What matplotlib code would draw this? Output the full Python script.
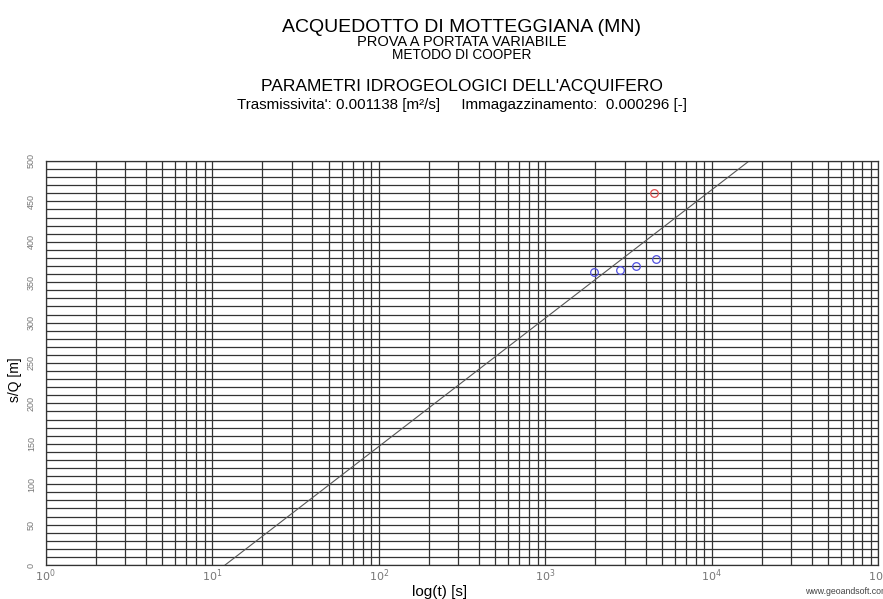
"""Cooper-Jacob straight-line plot for the Motteggiana variable-rate test."""

import matplotlib

matplotlib.use("Agg")
import matplotlib.pyplot as plt
from matplotlib.ticker import LogLocator, FixedLocator, NullFormatter
import numpy as np

# measured specific drawdown s/Q vs time (blue points)
t_obs = [1973, 2827, 3525, 4650]
sq_obs = [363, 364.5, 370, 379]

# the outlier step drawn in red
t_red = [4520]
sq_red = [461]

# fitted Cooper-Jacob line, read at the two ends of the plot
t_fit = [11.95, 16750]
sq_fit = [0, 500]

y_ticks = [0, 50, 100, 150, 200, 250, 300, 350, 400, 450, 500]
x_decades = [1, 10, 100, 1000, 10000, 100000]

plt.rcParams["font.family"] = ["Liberation Sans", "DejaVu Sans"]

W, H = 883, 599
fig = plt.figure(figsize=(W / 100, H / 100), dpi=100)
ax = fig.add_axes([45.7 / W, 1 - 565 / H, 832.6 / W, 404 / H])

ax.set_xscale("log")
ax.set_xlim(1, 1e5)
ax.set_ylim(0, 500)

# grid: every log subdivision vertically, every 10 units horizontally
ax.xaxis.set_major_locator(FixedLocator(x_decades))
ax.xaxis.set_minor_locator(LogLocator(base=10, subs=np.arange(2, 10), numticks=20))
ax.xaxis.set_minor_formatter(NullFormatter())
ax.yaxis.set_major_locator(FixedLocator(y_ticks))
ax.yaxis.set_minor_locator(FixedLocator(np.arange(0, 501, 10)))
ax.grid(True, which="both", axis="both", color="#333333", linewidth=0.9)
ax.set_axisbelow(True)

ax.set_xticks(x_decades)
ax.set_xticklabels([r"$10^{%d}$" % k for k in range(len(x_decades))])
ax.set_yticks(y_ticks)
ax.set_yticklabels([str(v) for v in y_ticks], rotation=90, va="center")
ax.tick_params(axis="both", which="both", length=0, colors="#777777")
ax.tick_params(axis="x", pad=2, labelsize=8)
ax.tick_params(axis="y", pad=7, labelsize=6.5)

for side in ax.spines.values():
    side.set_color("#333333")
    side.set_linewidth(0.9)

ax.plot(t_fit, sq_fit, color="#555555", linewidth=0.8)
ax.plot(t_obs, sq_obs, "o", markersize=5.5, markerfacecolor="none",
        markeredgecolor="#5050e0", markeredgewidth=0.9)
ax.plot(t_red, sq_red, "o", markersize=5.5, markerfacecolor="none",
        markeredgecolor="#e05050", markeredgewidth=0.9)

# axis titles placed as in the original (x title sits left of centre)
fig.text(440 / W, 1 - 592 / H, "log(t) [s]", ha="center", va="center", fontsize=11)
fig.text(15 / W, 1 - 380 / H, "s/Q [m]", ha="center", va="center",
         rotation=90, fontsize=10)

# header block
cx = 462 / W
fig.text(cx, 1 - 27 / H, "ACQUEDOTTO DI MOTTEGGIANA (MN)", ha="center", va="center",
         fontsize=14)
fig.text(cx, 1 - 42 / H, "PROVA A PORTATA VARIABILE", ha="center", va="center",
         fontsize=10.5)
fig.text(cx, 1 - 55 / H, "METODO DI COOPER", ha="center", va="center", fontsize=9.8)
fig.text(cx, 1 - 87 / H, "PARAMETRI IDROGEOLOGICI DELL'ACQUIFERO", ha="center",
         va="center", fontsize=12.6)
fig.text(cx, 1 - 105 / H,
         "Trasmissivita': 0.001138 [m\u00b2/s]     Immagazzinamento:  0.000296 [-]",
         ha="center", va="center", fontsize=10.9)

fig.text(805 / W, 1 - 591 / H, "www.geoandsoft.com", va="center", fontsize=6.3,
         color="#444444")

fig.savefig("out.png", dpi=100)
plt.close(fig)
